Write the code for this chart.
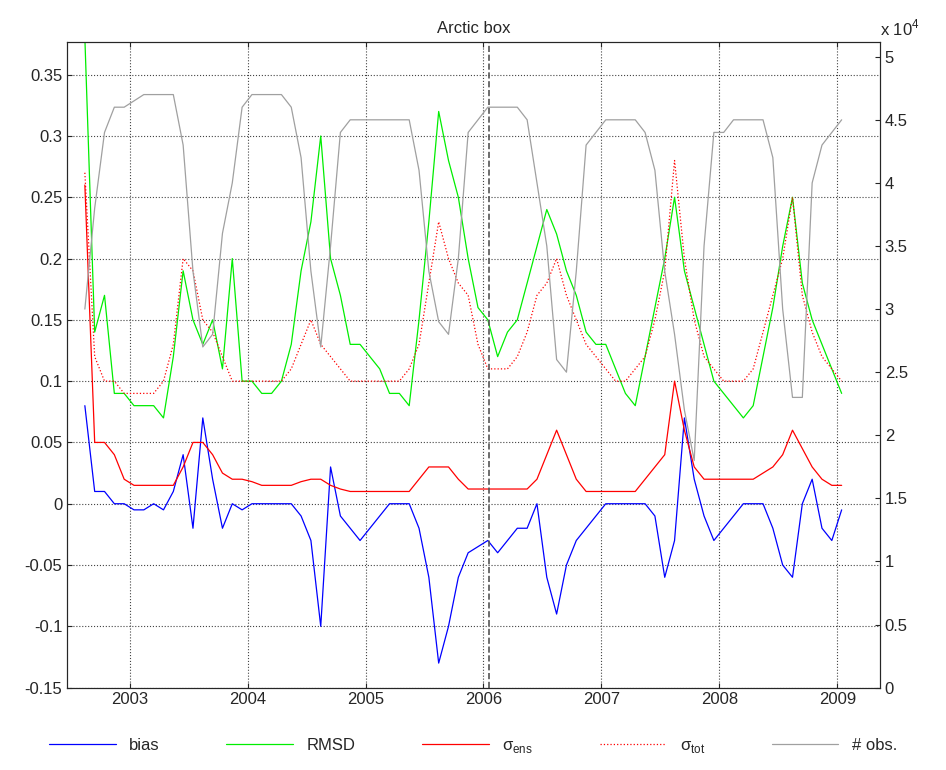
import numpy as np, pandas as pd, matplotlib
matplotlib.use("Agg")
import matplotlib.pyplot as plt, seaborn as sns

sns.set_style("ticks")
plt.rcParams['font.family'] = ['Liberation Sans', 'DejaVu Sans']
plt.rcParams['mathtext.fontset'] = 'custom'
plt.rcParams['mathtext.rm'] = 'Liberation Sans'

# monthly values Aug 2002 .. Jan 2009 (decimal years)
t = [2002.62 + i/12 for i in range(78)]
bias = [0.08,0.01,0.01,0.0,0.0,
 -0.005,-0.005,0.0,-0.005,0.01,0.04,-0.02,0.07,0.02,-0.02,0.0,-0.005,
 0.0,0.0,0.0,0.0,0.0,-0.01,-0.03,-0.10,0.03,-0.01,-0.02,-0.03,
 -0.02,-0.01,0.0,0.0,0.0,-0.02,-0.06,-0.13,-0.10,-0.06,-0.04,-0.035,
 -0.03,-0.04,-0.03,-0.02,-0.02,0.0,-0.06,-0.09,-0.05,-0.03,-0.02,-0.01,
 0.0,0.0,0.0,0.0,0.0,-0.01,-0.06,-0.03,0.07,0.02,-0.01,-0.03,
 -0.02,-0.01,0.0,0.0,0.0,-0.02,-0.05,-0.06,0.0,0.02,-0.02,-0.03,
 -0.005]
rmsd = [0.38,0.14,0.17,0.09,0.09,
 0.08,0.08,0.08,0.07,0.12,0.19,0.15,0.13,0.15,0.11,0.20,0.10,
 0.10,0.09,0.09,0.10,0.13,0.19,0.23,0.30,0.20,0.17,0.13,0.13,
 0.12,0.11,0.09,0.09,0.08,0.15,0.23,0.32,0.28,0.25,0.20,0.16,
 0.15,0.12,0.14,0.15,0.18,0.21,0.24,0.22,0.19,0.17,0.14,0.13,
 0.13,0.11,0.09,0.08,0.12,0.16,0.20,0.25,0.19,0.16,0.13,0.10,
 0.09,0.08,0.07,0.08,0.12,0.16,0.21,0.25,0.18,0.15,0.13,0.11,
 0.09]
sig_ens = [0.26,0.05,0.05,0.04,0.02,
 0.015,0.015,0.015,0.015,0.015,0.03,0.05,0.05,0.04,0.025,0.02,0.02,
 0.018,0.015,0.015,0.015,0.015,0.018,0.02,0.02,0.015,0.012,0.01,0.01,
 0.01,0.01,0.01,0.01,0.01,0.02,0.03,0.03,0.03,0.02,0.012,0.012,
 0.012,0.012,0.012,0.012,0.012,0.02,0.04,0.06,0.04,0.02,0.01,0.01,
 0.01,0.01,0.01,0.01,0.02,0.03,0.04,0.10,0.06,0.03,0.02,0.02,
 0.02,0.02,0.02,0.02,0.025,0.03,0.04,0.06,0.045,0.03,0.02,0.015,
 0.015]
sig_tot = [0.27,0.12,0.10,0.10,0.09,
 0.09,0.09,0.09,0.10,0.13,0.20,0.19,0.15,0.14,0.12,0.10,0.10,
 0.10,0.10,0.10,0.10,0.11,0.13,0.15,0.13,0.12,0.11,0.10,0.10,
 0.10,0.10,0.10,0.10,0.11,0.13,0.18,0.23,0.20,0.18,0.17,0.13,
 0.11,0.11,0.11,0.12,0.14,0.17,0.18,0.20,0.17,0.15,0.13,0.12,
 0.11,0.10,0.10,0.11,0.12,0.15,0.19,0.28,0.20,0.15,0.12,0.11,
 0.10,0.10,0.10,0.11,0.14,0.17,0.20,0.25,0.17,0.14,0.12,0.11,
 0.10]
obs = [3.0,3.8,4.4,4.6,4.6,
 4.65,4.7,4.7,4.7,4.7,4.3,3.3,2.7,2.8,3.6,4.0,4.6,
 4.7,4.7,4.7,4.7,4.6,4.2,3.3,2.7,3.5,4.4,4.5,4.5,
 4.5,4.5,4.5,4.5,4.5,4.1,3.3,2.9,2.8,3.4,4.4,4.5,
 4.6,4.6,4.6,4.6,4.5,4.0,3.5,2.6,2.5,3.3,4.3,4.4,
 4.5,4.5,4.5,4.5,4.4,4.1,3.3,2.8,2.2,1.8,3.5,4.4,
 4.4,4.5,4.5,4.5,4.5,4.2,3.0,2.3,2.3,4.0,4.3,4.4,
 4.5]
years = [2003,2004,2005,2006,2007,2008,2009]

df = pd.DataFrame(dict(t=t,bias=bias,rmsd=rmsd,ens=sig_ens,tot=sig_tot,obs=obs))
fig = plt.figure(figsize=(9.46,7.7), dpi=100)
ax = fig.add_axes([0.071,0.107,0.859,0.839])
ax2 = ax.twinx()
sns.lineplot(data=df,x='t',y='obs',ax=ax2,color='#a0a0a0',lw=0.9,label='# obs.',legend=False)
sns.lineplot(data=df,x='t',y='bias',ax=ax,color='blue',lw=0.9,label='bias',legend=False)
sns.lineplot(data=df,x='t',y='rmsd',ax=ax,color='#00ee00',lw=0.9,label='RMSD',legend=False)
sns.lineplot(data=df,x='t',y='ens',ax=ax,color='red',lw=0.9,label=r'σ$_{\rm ens}$',legend=False)
sns.lineplot(data=df,x='t',y='tot',ax=ax,color='red',lw=0.9,ls=':',label=r'σ$_{\rm tot}$',legend=False)
ax.axvline(2006.05,color='#555555',ls='--',lw=1.2)
ax.set_xlim(2002.47,2009.36); ax.set_ylim(-0.15,0.377)
ax2.set_ylim(0,5.12)
ax.set_xticks(years); ax.set_xticklabels([str(y) for y in years])
ax.set_yticks(np.arange(-0.15,0.36,0.05)); ax.set_yticklabels(['%g'%round(v,2) for v in np.arange(-0.15,0.36,0.05)])
ax2.set_yticks(np.arange(0,5.1,0.5)); ax2.set_yticklabels(['%g'%v for v in np.arange(0,5.1,0.5)])
ax.grid(True,ls=':',color='#444444',lw=0.8)
for a in (ax,ax2):
    a.set_xlabel(''); a.set_ylabel('')
    a.tick_params(direction='in',labelsize=12)
    for s in a.spines.values(): s.set_linewidth(0.8)
ax.tick_params(top=True)
ax2.text(1.0,1.005,r'x 10$^4$',transform=ax2.transAxes,fontsize=12,ha='left',va='bottom')
ax.set_title('Arctic box',fontsize=12)
h1,l1=ax.get_legend_handles_labels(); h2,l2=ax2.get_legend_handles_labels()
fig.legend(h1+h2,l1+l2,loc='lower center',ncol=5,frameon=False,fontsize=12,
           bbox_to_anchor=(0.5,0.0),columnspacing=4,handlelength=4)
fig.savefig('out.png',dpi=100,facecolor='white')
